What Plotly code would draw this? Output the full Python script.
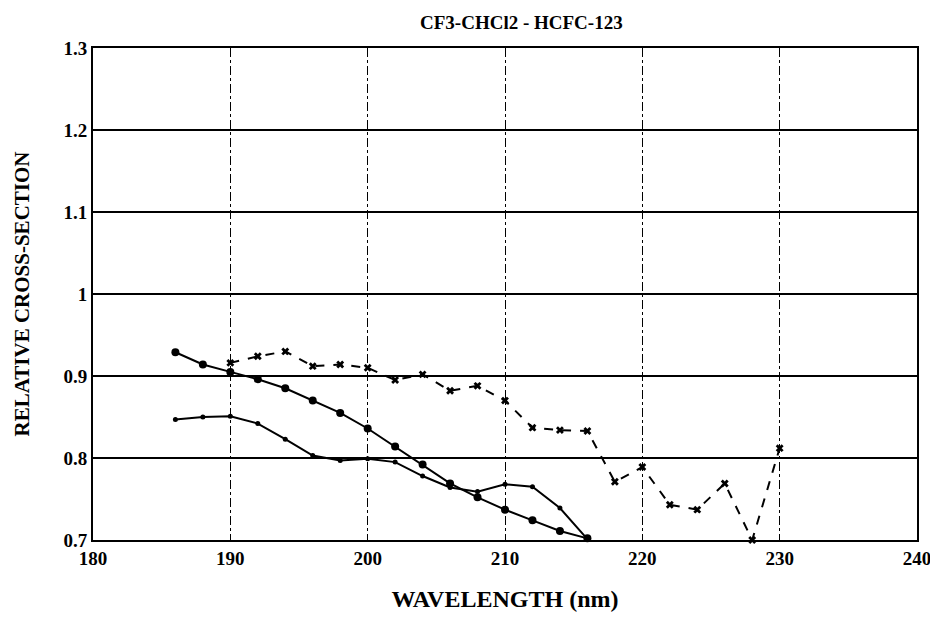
import plotly.graph_objects as go

# Wavelength (nm)
wl_a = [186, 188, 190, 192, 194, 196, 198, 200, 202, 204, 206, 208, 210, 212, 214, 216]
rel_a = [0.929, 0.914, 0.905, 0.896, 0.885, 0.870, 0.855, 0.836, 0.814, 0.792, 0.769, 0.752, 0.737, 0.724, 0.711, 0.702]

wl_b = [186, 188, 190, 192, 194, 196, 198, 200, 202, 204, 206, 208, 210, 212, 214, 216]
rel_b = [0.847, 0.850, 0.851, 0.842, 0.823, 0.803, 0.797, 0.799, 0.795, 0.778, 0.764, 0.759, 0.768, 0.765, 0.739, 0.701]

wl_c = [190, 192, 194, 196, 198, 200, 202, 204, 206, 208, 210, 212, 214, 216, 218, 220, 222, 224, 226, 228, 230]
rel_c = [0.916, 0.924, 0.930, 0.912, 0.914, 0.910, 0.895, 0.902, 0.882, 0.888, 0.870, 0.837, 0.834, 0.833, 0.771, 0.789, 0.743, 0.737, 0.769, 0.700, 0.812]

x_ticks = [180, 190, 200, 210, 220, 230, 240]
y_ticks = [0.7, 0.8, 0.9, 1.0, 1.1, 1.2, 1.3]
y_tick_labels = ["0.7", "0.8", "0.9", "1", "1.1", "1.2", "1.3"]

FONT = "Liberation Serif"

fig = go.Figure()
fig.add_trace(go.Scatter(x=wl_a, y=rel_a, mode="lines+markers",
                         line=dict(color="black", width=2),
                         marker=dict(symbol="circle", size=8, color="black"),
                         cliponaxis=False, showlegend=False))
fig.add_trace(go.Scatter(x=wl_b, y=rel_b, mode="lines+markers",
                         line=dict(color="black", width=2),
                         marker=dict(symbol="circle", size=5, color="black"),
                         cliponaxis=False, showlegend=False))
fig.add_trace(go.Scatter(x=wl_c, y=rel_c, mode="lines+markers",
                         line=dict(color="black", width=2, dash="dash"),
                         marker=dict(symbol="x", size=7, color="black"),
                         cliponaxis=False, showlegend=False))

fig.update_layout(
    width=930, height=610,
    margin=dict(l=85, r=21, t=40, b=78, autoexpand=False),
    paper_bgcolor="white", plot_bgcolor="white",
    font=dict(family=FONT, color="black"),
    title=dict(text="CF3-CHCl2 - HCFC-123", x=0.552, xanchor="center", y=0.977, yanchor="middle",
               font=dict(family=FONT, size=19, color="black", weight="bold")),
)
fig.update_xaxes(range=[180, 240], tickvals=x_ticks, ticktext=[str(v) for v in x_ticks],
                 showgrid=True, gridcolor="black", gridwidth=1, griddash="dashdot",
                 showline=True, linecolor="black", linewidth=2, mirror=True,
                 ticks="", zeroline=False, automargin=False,
                 tickfont=dict(family=FONT, size=19, color="black", weight="bold"),
                 title=dict(text="WAVELENGTH (nm)", font=dict(family=FONT, size=24, color="black", weight="bold"), standoff=22))
fig.update_yaxes(range=[0.7, 1.3], tickvals=y_ticks, ticktext=y_tick_labels,
                 showgrid=True, gridcolor="black", gridwidth=1.5,
                 showline=True, linecolor="black", linewidth=2, mirror=True,
                 ticks="", zeroline=False, automargin=False,
                 tickfont=dict(family=FONT, size=19, color="black", weight="bold"),
                 title=dict(text="RELATIVE CROSS-SECTION", font=dict(family=FONT, size=21, color="black", weight="bold"), standoff=28))

fig.write_html("out.html")
